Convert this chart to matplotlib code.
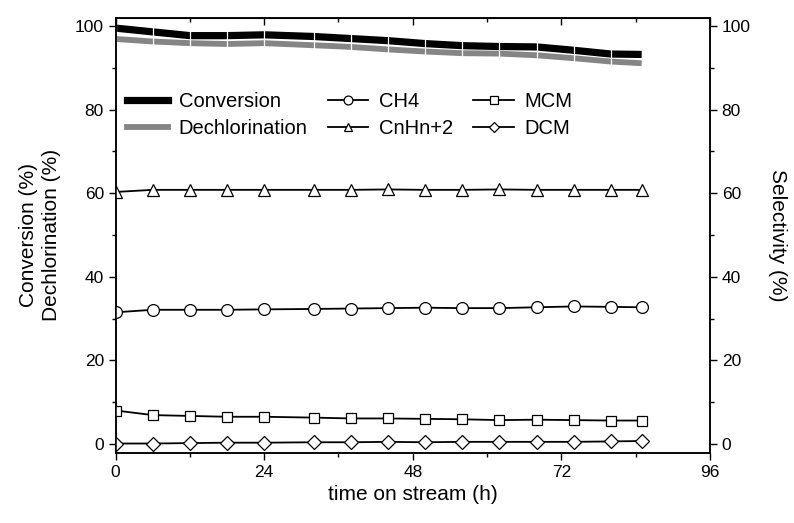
import matplotlib
matplotlib.use("Agg")
import matplotlib.pyplot as plt
from matplotlib.lines import Line2D
from matplotlib.ticker import MultipleLocator

plt.rcParams['font.family'] = ['Liberation Sans', 'DejaVu Sans']

# time on stream (h)
time_h = [0, 6, 12, 18, 24, 32, 38, 44, 50, 56, 62, 68, 74, 80, 85]

# left axis (%)
conversion = [99.5, 98.6, 97.7, 97.7, 97.9, 97.5, 97.0, 96.5, 95.8, 95.3, 95.1, 95.0, 94.2, 93.3, 93.2]
dechlorination = [96.9, 96.3, 95.9, 95.7, 95.9, 95.4, 95.0, 94.4, 93.9, 93.5, 93.4, 93.0, 92.3, 91.5, 91.1]

# right axis, selectivity (%)
ch4 = [31.5, 32.1, 32.1, 32.1, 32.2, 32.3, 32.4, 32.5, 32.6, 32.5, 32.5, 32.7, 32.9, 32.8, 32.7]
cnhn2 = [60.3, 60.8, 60.8, 60.8, 60.8, 60.8, 60.8, 60.9, 60.8, 60.8, 60.9, 60.8, 60.8, 60.8, 60.8]
mcm = [8.0, 6.9, 6.7, 6.5, 6.5, 6.3, 6.1, 6.1, 6.0, 5.9, 5.7, 5.8, 5.7, 5.6, 5.6]
dcm = [0.1, 0.1, 0.2, 0.3, 0.3, 0.4, 0.4, 0.5, 0.4, 0.5, 0.5, 0.5, 0.5, 0.6, 0.7]

GRAY = "#858585"

fig = plt.figure(figsize=(7.94, 5.23), dpi=100)
ax = fig.add_axes([0.1457, 0.1344, 0.7483, 0.8318])
ax2 = ax.twinx()

# thick lines with small white gaps at the data points
ax.plot(time_h, conversion, color="black", lw=5.2, solid_capstyle="butt",
        marker="|", ms=7, mew=0.9, mec="white")
ax.plot(time_h, dechlorination, color=GRAY, lw=4.2, solid_capstyle="butt",
        marker="|", ms=6, mew=0.9, mec="white")

mk = dict(color="black", lw=1.3, mfc="white", mec="black", mew=0.9, ms=8.5)
ax2.plot(time_h, ch4, marker="o", label="CH4", **mk)
ax2.plot(time_h, cnhn2, marker="^", label="CnHn+2", **mk)
ax2.plot(time_h, mcm, marker="s", label="MCM", **dict(mk, ms=7.5))
ax2.plot(time_h, dcm, marker="D", label="DCM", **dict(mk, ms=7))

ylim = (-2.1, 102.0)
ax.set_xlim(0, 96)
ax.set_ylim(*ylim)
ax2.set_ylim(*ylim)

ax.xaxis.set_major_locator(MultipleLocator(24))
ax.xaxis.set_minor_locator(MultipleLocator(12))
for a in (ax, ax2):
    a.yaxis.set_major_locator(MultipleLocator(20))
    a.yaxis.set_minor_locator(MultipleLocator(10))

ax.tick_params(axis="both", which="major", direction="out", length=5, width=1, labelsize=12.5)
ax.tick_params(axis="both", which="minor", direction="out", length=3, width=1)
ax2.tick_params(axis="y", which="major", direction="out", length=5, width=1, labelsize=12.5)
ax2.tick_params(axis="y", which="minor", direction="out", length=3, width=1)

top = ax.secondary_xaxis("top")
top.xaxis.set_major_locator(MultipleLocator(24))
top.xaxis.set_minor_locator(MultipleLocator(12))
top.tick_params(which="major", direction="in", length=5, width=1, labeltop=False)
top.tick_params(which="minor", direction="in", length=3, width=1)

for a in (ax, ax2):
    for s in a.spines.values():
        s.set_linewidth(1.1)

ax.set_xlabel("time on stream (h)", fontsize=15, labelpad=4)
ax.set_ylabel("Conversion (%)\nDechlorination (%)", fontsize=15, labelpad=10, linespacing=1.25)
ax2.set_ylabel("Selectivity (%)", fontsize=15, rotation=270, labelpad=26)

handles = [Line2D([], [], color="black", lw=5.2), Line2D([], [], color=GRAY, lw=4.2)]
h2, l2 = ax2.get_legend_handles_labels()
ax2.legend(handles + h2, ["Conversion", "Dechlorination"] + l2,
           ncol=3, loc="upper left", bbox_to_anchor=(-0.004, 0.862),
           frameon=False, fontsize=14.5, handlelength=2.0, handletextpad=0.55,
           columnspacing=1.0, labelspacing=0.42, markerscale=0.75, borderaxespad=0.3)

fig.savefig("out.png", dpi=100)
